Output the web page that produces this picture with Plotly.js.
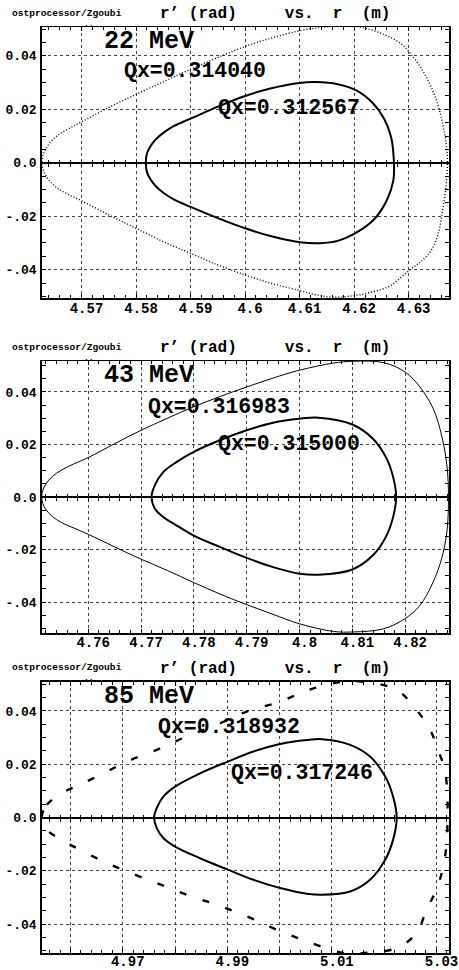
<!DOCTYPE html>
<html>
<head>
<meta charset="utf-8">
<script src="https://cdn.plot.ly/plotly-3.0.1.min.js"></script>
<style>
  html, body { margin: 0; padding: 0; background: #fff; }
  #chart { width: 459px; height: 970px; }
</style>
</head>
<body>
<div id="chart"></div>
<script>
// ---- Phase-space orbits r' vs r at three energies ----
const energies = ['22 MeV', '43 MeV', '85 MeV'];
const outerTunes = ['0.314040', '0.316983', '0.318932'];
const innerTunes = ['0.312567', '0.315000', '0.317246'];

// 22 MeV, large-amplitude orbit
const e22OuterR = [4.5627, 4.5629, 4.5634, 4.5643, 4.5656, 4.5675, 4.5700, 4.5750, 4.5800, 4.5850, 4.5900, 4.5950, 4.6000, 4.6050, 4.6100, 4.6140, 4.6175, 4.6210, 4.6250, 4.6285, 4.6305, 4.6330, 4.6350, 4.6362, 4.6369, 4.6371,
                   4.6368, 4.6362, 4.6355, 4.6342, 4.6325, 4.6302, 4.6266, 4.6230, 4.6200, 4.6160, 4.6130, 4.6100, 4.6050, 4.6000, 4.5950, 4.5900, 4.5850, 4.5800, 4.5750, 4.5700, 4.5675, 4.5656, 4.5643, 4.5634, 4.5629, 4.5627];
const e22OuterRp = [0, 0.0025, 0.0050, 0.0077, 0.0102, 0.0126, 0.0153, 0.0207, 0.0256, 0.0303, 0.0350, 0.0394, 0.0435, 0.0468, 0.0494, 0.0507, 0.0511, 0.0508, 0.0484, 0.0447, 0.0405, 0.0330, 0.0240, 0.0150, 0.0070, 0,
                    -0.0100, -0.0180, -0.0260, -0.0326, -0.0365, -0.0401, -0.0460, -0.0485, -0.0497, -0.0503, -0.0494, -0.0478, -0.0452, -0.0420, -0.0382, -0.0339, -0.0295, -0.0245, -0.0195, -0.0142, -0.0118, -0.0095, -0.0071, -0.0046, -0.0023, 0];
// 22 MeV, small-amplitude orbit
const e22InnerR = [4.5818, 4.5820, 4.5826, 4.5835, 4.5850, 4.5870, 4.5900, 4.5950, 4.6000, 4.6050, 4.6100, 4.6130, 4.6170, 4.6205, 4.6235, 4.6255, 4.6268, 4.6273,
                   4.6272, 4.6260, 4.6235, 4.6200, 4.6170, 4.6137, 4.6100, 4.6050, 4.6000, 4.5950, 4.5900, 4.5870, 4.5850, 4.5835, 4.5826, 4.5820, 4.5818];
const e22InnerRp = [0, 0.0035, 0.0060, 0.0085, 0.0112, 0.0138, 0.0165, 0.0210, 0.0250, 0.0280, 0.0299, 0.0302, 0.0294, 0.0270, 0.0222, 0.0165, 0.0095, 0,
                    -0.0065, -0.0140, -0.0215, -0.0266, -0.0292, -0.0301, -0.0297, -0.0276, -0.0245, -0.0207, -0.0165, -0.0138, -0.0112, -0.0085, -0.0060, -0.0035, 0];

// 43 MeV, large-amplitude orbit
const e43OuterR = [4.7512, 4.7514, 4.7520, 4.7532, 4.7550, 4.7575, 4.7600, 4.7650, 4.7698, 4.7750, 4.7799, 4.7850, 4.7900, 4.7950, 4.8000, 4.8064, 4.8102, 4.8159, 4.8200, 4.8228, 4.8253, 4.8269, 4.8279, 4.8282,
                   4.8279, 4.8269, 4.8253, 4.8228, 4.8200, 4.8159, 4.8102, 4.8064, 4.8000, 4.7950, 4.7900, 4.7850, 4.7799, 4.7750, 4.7698, 4.7650, 4.7600, 4.7575, 4.7550, 4.7532, 4.7520, 4.7514, 4.7512];
const e43OuterRp = [0, 0.0025, 0.0050, 0.0078, 0.0103, 0.0128, 0.0150, 0.0203, 0.0252, 0.0300, 0.0343, 0.0383, 0.0419, 0.0453, 0.0483, 0.0510, 0.0517, 0.0512, 0.0476, 0.0419, 0.0337, 0.0235, 0.0121, 0,
                    -0.0133, -0.0235, -0.0324, -0.0413, -0.0463, -0.0502, -0.0514, -0.0512, -0.0483, -0.0447, -0.0410, -0.0370, -0.0325, -0.0280, -0.0235, -0.0190, -0.0142, -0.0120, -0.0098, -0.0074, -0.0048, -0.0024, 0];
// 43 MeV, small-amplitude orbit
const e43InnerR = [4.7720, 4.7726, 4.7742, 4.7767, 4.7799, 4.7849, 4.7900, 4.7950, 4.8000, 4.8036, 4.8100, 4.8139, 4.8165, 4.8178, 4.8183,
                   4.8178, 4.8165, 4.8139, 4.8100, 4.8036, 4.8000, 4.7950, 4.7900, 4.7849, 4.7799, 4.7767, 4.7742, 4.7726, 4.7720];
const e43InnerRp = [0, 0.0044, 0.0095, 0.0133, 0.0171, 0.0216, 0.0254, 0.0283, 0.0298, 0.0302, 0.0276, 0.0222, 0.0146, 0.0070, 0,
                    -0.0070, -0.0146, -0.0222, -0.0276, -0.0296, -0.0292, -0.0267, -0.0232, -0.0190, -0.0146, -0.0108, -0.0076, -0.0044, 0];

// 85 MeV, large-amplitude orbit
const e85OuterR = [4.9545, 4.9555, 4.9583, 4.9618, 4.9663, 4.9708, 4.9765, 4.9822, 4.9880, 4.9937, 5.0001, 5.0055, 5.0122, 5.0160, 5.0224, 5.0262, 5.0288, 5.0303, 5.0316, 5.0321, 5.0321,
                   5.0320, 5.0313, 5.0300, 5.0281, 5.0262, 5.0224, 5.0162, 5.0122, 5.0052, 4.9994, 4.9937, 4.9880, 4.9822, 4.9765, 4.9708, 4.9663, 4.9618, 4.9583, 4.9555, 4.9545];
const e85OuterRp = [0, 0.0048, 0.0091, 0.0123, 0.0166, 0.0210, 0.0254, 0.0304, 0.0348, 0.0398, 0.0435, 0.0479, 0.0510, 0.0510, 0.0479, 0.0404, 0.0329, 0.0254, 0.0179, 0.0079, 0,
                    -0.0084, -0.0184, -0.0271, -0.0346, -0.0434, -0.0490, -0.0509, -0.0509, -0.0465, -0.0421, -0.0371, -0.0328, -0.0290, -0.0246, -0.0203, -0.0165, -0.0121, -0.0084, -0.0046, 0];
// 85 MeV, small-amplitude orbit
const e85InnerR = [4.9760, 4.9765, 4.9778, 4.9800, 4.9848, 4.9901, 4.9950, 5.0001, 5.0052, 5.0081, 5.0135, 5.0173, 5.0202, 5.0217, 5.0224,
                   5.0217, 5.0202, 5.0173, 5.0135, 5.0081, 5.0052, 5.0001, 4.9950, 4.9901, 4.9848, 4.9800, 4.9778, 4.9765, 4.9760];
const e85InnerRp = [0, 0.0035, 0.0079, 0.0116, 0.0166, 0.0210, 0.0248, 0.0276, 0.0291, 0.0294, 0.0273, 0.0229, 0.0154, 0.0079, 0,
                    -0.0084, -0.0159, -0.0234, -0.0278, -0.0290, -0.0286, -0.0265, -0.0234, -0.0196, -0.0153, -0.0109, -0.0078, -0.0040, 0];

// axis ticks
const yTickVals = [-0.04, -0.02, 0, 0.02, 0.04];
const yTickText = ['-.04', '-.02', '0.0', '0.02', '0.04'];
const xTickVals22 = [4.57, 4.58, 4.59, 4.60, 4.61, 4.62, 4.63];
const xTickText22 = ['4.57', '4.58', '4.59', '4.6', '4.61', '4.62', '4.63'];
const xTickVals43 = [4.76, 4.77, 4.78, 4.79, 4.80, 4.81, 4.82];
const xTickText43 = ['4.76', '4.77', '4.78', '4.79', '4.8', '4.81', '4.82'];
const xTickVals85 = [4.96, 4.97, 4.98, 4.99, 5.00, 5.01, 5.02, 5.03];
const xTickText85 = ['', '4.97', '', '4.99', '', '5.01', '', '5.03'];

// ---- page geometry (pixels) ----
const W = 459, H = 970;
const plotLeft = 41.7, plotRight = 449;
const panels = [
  { top: 27.3,  bottom: 298.3, xr: [4.5627, 4.6374], yr: [-0.0507, 0.0507],
    tv: xTickVals22, tt: xTickText22, minor: 0.002, standoff: -4,
    outer: [e22OuterR, e22OuterRp], inner: [e22InnerR, e22InnerRp],
    outerLine: { color: '#000', width: 1.4, dash: '1px,2px' },
    labels: { mev: [103, 42], qo: [123, 71], qi: [217, 108] } },
  { top: 361,   bottom: 633,   xr: [4.7512, 4.8283], yr: [-0.0518, 0.0518],
    tv: xTickVals43, tt: xTickText43, minor: 0.002, standoff: -4,
    outer: [e43OuterR, e43OuterRp], inner: [e43InnerR, e43InnerRp],
    outerLine: { color: '#000', width: 1 },
    labels: { mev: [103, 376], qo: [146.7, 407.3], qi: [216.7, 444.3] } },
  { top: 681.7, bottom: 953.3, xr: [4.9545, 5.0324], yr: [-0.051, 0.051],
    tv: xTickVals85, tt: xTickText85, minor: 0.002, standoff: -6,
    outer: [e85OuterR, e85OuterRp], inner: [e85InnerR, e85InnerRp],
    outerLine: { color: '#000', width: 2.4, dash: '7px,17px' },
    labels: { mev: [103, 696], qo: [157.3, 727.3], qi: [230, 773.3] } }
];

const FONT = 'Liberation Mono, Courier New, monospace';
const px2x = p => p / W;
const py2y = p => 1 - p / H;

const traces = [];
const layout = {
  width: W, height: H,
  margin: { l: 0, r: 0, t: 0, b: 0 },
  paper_bgcolor: '#fff', plot_bgcolor: '#fff',
  showlegend: false,
  annotations: []
};

function ann(text, px, py, size, xanchor) {
  layout.annotations.push({
    text: text, xref: 'paper', yref: 'paper',
    x: px2x(px), y: py2y(py), xanchor: xanchor || 'left', yanchor: 'middle',
    showarrow: false, borderpad: 0,
    font: { family: FONT, size: size, color: '#000', weight: 700 }
  });
}

panels.forEach((p, i) => {
  const n = i + 1;
  const xa = 'xaxis' + (n === 1 ? '' : n);
  const ya = 'yaxis' + (n === 1 ? '' : n);
  const xid = 'x' + (n === 1 ? '' : n);
  const yid = 'y' + (n === 1 ? '' : n);
  const dom = [py2y(p.bottom), py2y(p.top)];

  layout[xa] = {
    domain: [px2x(plotLeft), px2x(plotRight)], anchor: yid,
    range: p.xr, tickmode: 'array', tickvals: p.tv, ticktext: p.tt,
    ticks: 'inside', ticklen: 4, tickwidth: 1, tickcolor: '#000',
    mirror: 'allticks', showline: true, linecolor: '#000', linewidth: 1.5,
    showgrid: true, gridcolor: '#444', gridwidth: 1, griddash: 'dot',
    zeroline: false, ticklabelshift: 5, ticklabelstandoff: p.standoff,
    tickfont: { family: FONT, size: 14, color: '#000', weight: 700 },
    minor: { dtick: p.minor, tick0: p.tv[0], ticks: 'inside', ticklen: 3, tickcolor: '#000', showgrid: false }
  };
  layout[ya] = {
    domain: dom, anchor: xid,
    range: p.yr, tickmode: 'array', tickvals: yTickVals, ticktext: yTickText,
    ticks: 'inside', ticklen: 4, tickwidth: 1, tickcolor: '#000',
    mirror: 'allticks', showline: true, linecolor: '#000', linewidth: 1.5,
    showgrid: true, gridcolor: '#444', gridwidth: 1, griddash: 'dot',
    zeroline: true, zerolinecolor: '#000', zerolinewidth: 2,
    ticklabelstandoff: 1,
    tickfont: { family: FONT, size: 13, color: '#000', weight: 700 },
    minor: { dtick: 0.005, tick0: 0, ticks: 'inside', ticklen: 3, tickcolor: '#000', showgrid: false }
  };

  // tick marks crossing the r' = 0 line (two free axes, one each side)
  const zeroPos = dom[0] + (0 - p.yr[0]) / (p.yr[1] - p.yr[0]) * (dom[1] - dom[0]);
  ['outside', 'inside'].forEach((side, k) => {
    const id = 3 + i * 2 + k + 1;
    layout['xaxis' + id] = {
      overlaying: xid, anchor: 'free', position: zeroPos, range: p.xr,
      showline: false, showgrid: false, zeroline: false, showticklabels: false,
      tickmode: 'linear', tick0: p.tv[0], dtick: p.minor,
      ticks: side, ticklen: 3, tickwidth: 1, tickcolor: '#000'
    };
    traces.push({ x: [], y: [], xaxis: 'x' + id, yaxis: yid, type: 'scatter', mode: 'lines', hoverinfo: 'skip' });
  });

  traces.push({
    x: p.outer[0], y: p.outer[1], xaxis: xid, yaxis: yid,
    type: 'scatter', mode: 'lines', line: Object.assign({ shape: 'spline', smoothing: 1 }, p.outerLine),
    hoverinfo: 'skip'
  });
  traces.push({
    x: p.inner[0], y: p.inner[1], xaxis: xid, yaxis: yid,
    type: 'scatter', mode: 'lines', line: { color: '#000', width: 2, shape: 'spline', smoothing: 1 },
    hoverinfo: 'skip'
  });

  // panel header and labels
  const hy = p.top - 14;
  ann('ostprocessor/Zgoubi', 11, hy, 9.6);
  ann('..', 83, hy + 10, 8);
  ann('r\u2019\u00a0(rad)\u00a0\u00a0\u00a0\u00a0\u00a0vs.\u00a0\u00a0r\u00a0\u00a0(m)', 159, hy + 1, 16);
  ann(energies[i], p.labels.mev[0], p.labels.mev[1], 25);
  ann('Qx=' + outerTunes[i], p.labels.qo[0], p.labels.qo[1], 21.5);
  ann('Qx=' + innerTunes[i], p.labels.qi[0], p.labels.qi[1], 21.5);
});

Plotly.newPlot('chart', traces, layout, { staticPlot: true, displayModeBar: false });
</script>
</body>
</html>
